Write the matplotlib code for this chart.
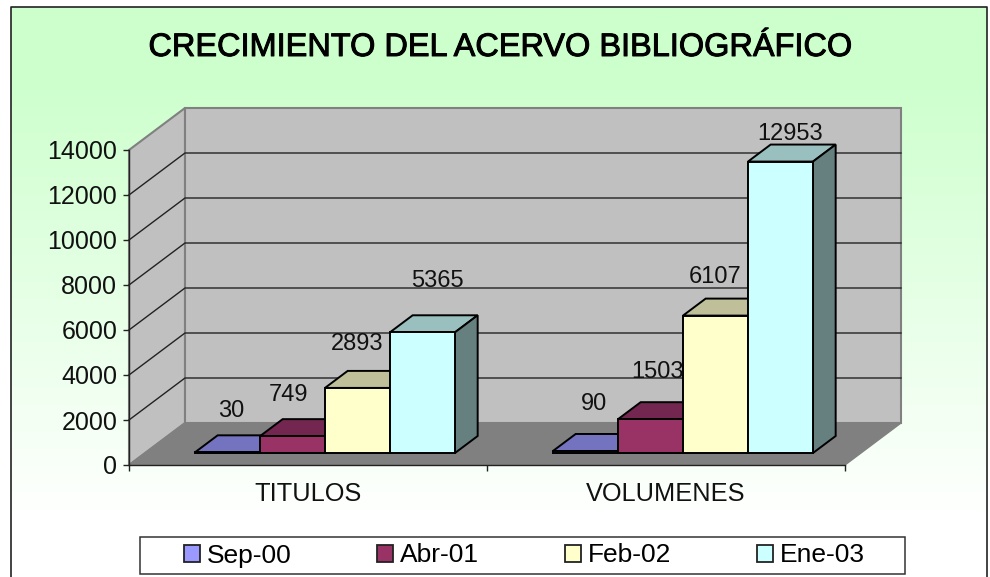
import matplotlib
matplotlib.use('Agg')
import matplotlib.pyplot as plt
import matplotlib.patheffects as pe
import numpy as np
from matplotlib.colors import LinearSegmentedColormap
from matplotlib.patches import Patch, Polygon, Rectangle

plt.rcParams['font.family'] = ['Liberation Sans', 'DejaVu Sans']

categories = ['TITULOS', 'VOLUMENES']
series_names = ['Sep-00', 'Abr-01', 'Feb-02', 'Ene-03']
titulos = [30, 749, 2893, 5365]
volumenes = [90, 1503, 6107, 12953]
yticks = [0, 2000, 4000, 6000, 8000, 10000, 12000, 14000]

front_colors = ['#9999FF', '#993366', '#FFFFCC', '#CCFFFF']
top_colors = ['#7373BF', '#732650', '#BFBF99', '#99BFBF']
side_colors = ['#5C5C99', '#5C1F3D', '#80806A', '#668080']
# label offset from the front top centre of each bar, px (moved by hand in the original)
label_offsets = [[(4, 41), (-4, 41), (0, 44), (15, 51)],
                 [(9, 47), (7, 47), (0, 39), (10, 28)]]

W, H = 990, 577
fig = plt.figure(figsize=(W / 100, H / 100), dpi=100)

# background gradient + border
bg = fig.add_axes([0, 0, 1, 1], zorder=0)
cmap = LinearSegmentedColormap.from_list('bg', ['#CCFFCC', '#FFFFFF'])
grad = np.clip((np.linspace(7, H, 300) - 70) / 450, 0, 1).reshape(-1, 1)
bg.imshow(grad, extent=[11, 987, H, 7], aspect='auto', cmap=cmap, vmin=0, vmax=1)
bg.set_xlim(0, W)
bg.set_ylim(H, 0)
bg.axis('off')
bg.plot([11, 11, 987, 987], [H, 7, 7, H], color='#222222', lw=1.2)
bg.add_patch(Rectangle((140, 537), 765, 37, facecolor='white', edgecolor='#333333', lw=1.1))

# front plane of the chart
left, right, bottom, top = 129, 845, 465, 150
ax = fig.add_axes([left / W, 1 - bottom / H, (right - left) / W, (bottom - top) / H], zorder=1)
ax.patch.set_alpha(0)
ax.set_xlim(0, 2)
ax.set_ylim(0, 14000)
px_x = 2 / (right - left)
px_y = 14000 / (bottom - top)
dx, dy = 56 * px_x, 42 * px_y  # full depth of the box


def pt(x, v, d=0):
    return (x + d * dx, v + d * dy)


def face(points, color, edge, lw, z):
    ax.add_patch(Polygon(points, closed=True, facecolor=color, edgecolor=edge, lw=lw,
                         zorder=z, clip_on=False, joinstyle='miter'))


# walls and floor
face([pt(0, 0), pt(0, 0, 1), pt(0, 14000, 1), pt(0, 14000)], '#C0C0C0', '#808080', 1.5, 1)
face([pt(0, 0, 1), pt(2, 0, 1), pt(2, 14000, 1), pt(0, 14000, 1)], '#C0C0C0', '#808080', 1.5, 1)
face([pt(0, 0), pt(2, 0), pt(2, 0, 1), pt(0, 0, 1)], '#808080', '#808080', 1, 1.1)
for v in yticks[1:-1]:
    xs, ys = zip(pt(0, v), pt(0, v, 1), pt(2, v, 1))
    ax.plot(xs, ys, color='#222222', lw=1.0, zorder=1.2, clip_on=False)

# bars
bar_w = 65 * px_x
d0, d1 = 12 / 42, 29 / 42
for i, values in enumerate([titulos, volumenes]):
    for j, v in enumerate(values):
        x0 = i + 0.5 + (j - 2) * bar_w + px_x
        x1 = x0 + bar_w
        face([pt(x0, v, d0), pt(x1, v, d0), pt(x1, v, d1), pt(x0, v, d1)], top_colors[j], 'black', 1.4, 3 + j)
        face([pt(x1, 0, d0), pt(x1, 0, d1), pt(x1, v, d1), pt(x1, v, d0)], side_colors[j], 'black', 1.4, 3 + j)
        face([pt(x0, 0, d0), pt(x1, 0, d0), pt(x1, v, d0), pt(x0, v, d0)], front_colors[j], 'black', 1.4, 3 + j)
        ox, oy = label_offsets[i][j]
        ax.annotate(str(v), pt((x0 + x1) / 2, v, d0), xytext=(ox * 0.72, oy * 0.72),
                    textcoords='offset points', ha='center', va='center',
                    fontsize=17, color='#111111', zorder=10)

# axes, ticks
for s in ['top', 'right']:
    ax.spines[s].set_visible(False)
for s in ['left', 'bottom']:
    ax.spines[s].set_color('#222222')
    ax.spines[s].set_linewidth(1.0)
    ax.spines[s].set_zorder(2)
ax.set_yticks(yticks)
ax.set_yticklabels([str(v) for v in yticks], fontsize=18, color='#111111')
ax.set_xticks([0, 1, 2])
ax.set_xticklabels([])
ax.set_xticks([0.5, 1.5], categories, minor=True, fontsize=18.3, color='#111111')
ax.tick_params(axis='both', which='major', length=4.5, width=1.0, color='#222222', pad=4)
ax.tick_params(axis='x', which='minor', length=0, pad=12)

# legend
handles = [Patch(facecolor=c, edgecolor='#222222', lw=1.3, label=n)
           for c, n in zip(front_colors, series_names)]
fig.legend(handles=handles, ncols=4, loc='center', bbox_to_anchor=(524.5 / W, 1 - 555.5 / H),
           fontsize=19, frameon=False, handlelength=0.6, handleheight=0.6, handletextpad=0.27,
           columnspacing=3.25, borderpad=0)

fig.text(499.5 / W, 1 - 48 / H, 'CRECIMIENTO DEL ACERVO BIBLIOGRÁFICO', ha='center', va='center',
         fontsize=23.4, color='black', zorder=5,
         path_effects=[pe.withStroke(linewidth=0.7, foreground='black')])

fig.savefig('out.png', dpi=100)
